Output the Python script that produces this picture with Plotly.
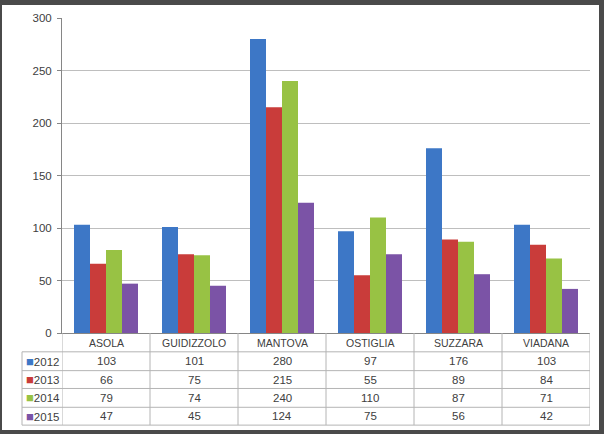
import plotly.graph_objects as go

categories = ["ASOLA", "GUIDIZZOLO", "MANTOVA", "OSTIGLIA", "SUZZARA", "VIADANA"]
years = ["2012", "2013", "2014", "2015"]
v2012 = [103, 101, 280, 97, 176, 103]
v2013 = [66, 75, 215, 55, 89, 84]
v2014 = [79, 74, 240, 110, 87, 71]
v2015 = [47, 45, 124, 75, 56, 42]
y_ticks = [0, 50, 100, 150, 200, 250, 300]
series = [v2012, v2013, v2014, v2015]
colors = ["#3D77C6", "#C93C3A", "#98C244", "#7B53A6"]

W, H = 604, 434
L, R, T, B = 62, 590, 15, 333
pw, ph = R - L, B - T


def px(x):
    return (x - L) / pw


def py(y):
    return 1 - (y - T) / ph


FONT = "Liberation Sans"
TXT = "#404040"
LINE = "#B4B4B4"
NUM = 11.5
CAT = 10.5

fig = go.Figure()
for yr, vals, c in zip(years, series, colors):
    fig.add_trace(go.Bar(x=categories, y=vals, name=yr, marker=dict(color=c, line=dict(width=0)),
                         showlegend=False, hoverinfo="skip"))

shapes = []
# white card on dark border
shapes.append(dict(type="rect", xref="paper", yref="paper", x0=px(2), x1=px(599), y0=py(431), y1=py(2),
                   fillcolor="white", line=dict(width=0), layer="below"))
# table vertical lines
for i in range(len(categories) + 1):
    shapes.append(dict(type="line", xref="x", yref="paper", x0=i - 0.5, x1=i - 0.5, y0=py(333), y1=py(426),
                       line=dict(color=LINE, width=1)))
shapes.append(dict(type="line", xref="paper", yref="paper", x0=px(22), x1=px(22), y0=py(352), y1=py(426),
                   line=dict(color=LINE, width=1)))
row_lines = [352, 371, 389, 408, 426]
for r in row_lines:
    shapes.append(dict(type="line", xref="paper", yref="paper", x0=px(22), x1=px(590), y0=py(r), y1=py(r),
                       line=dict(color=LINE, width=1)))

annotations = []
for c in categories:
    annotations.append(dict(x=c, xref="x", y=py(343), yref="paper", text=c, showarrow=False,
                            xanchor="center", yanchor="middle",
                            font=dict(family=FONT, size=CAT, color=TXT)))
row_centers = [361.5, 380, 398.5, 417]
for yr, vals, col, rc in zip(years, series, colors, row_centers):
    annotations.append(dict(x=px(24), xref="paper", y=py(rc), yref="paper", xanchor="left", yanchor="middle",
                            text=f"<span style='color:{col};font-size:13px'>■</span>{yr}", showarrow=False,
                            font=dict(family=FONT, size=NUM, color=TXT)))
    for c, v in zip(categories, vals):
        annotations.append(dict(x=c, xref="x", y=py(rc), yref="paper", text=str(v), showarrow=False,
                                xanchor="center", yanchor="middle",
                                font=dict(family=FONT, size=NUM, color=TXT)))

fig.update_layout(
    width=W, height=H,
    margin=dict(l=L, r=W - R, t=T, b=H - B, pad=0),
    paper_bgcolor="#4A4A4A", plot_bgcolor="rgba(0,0,0,0)",
    barmode="group", bargap=24 / 88, bargroupgap=0,
    font=dict(family=FONT, size=NUM, color=TXT),
    hovermode=False,
    xaxis=dict(type="category", range=[-0.5, 5.5], showticklabels=False, showline=True,
               linecolor="#868686", ticks="", showgrid=False, zeroline=False, fixedrange=True),
    yaxis=dict(range=[0, 300], tickvals=y_ticks, showgrid=True, gridcolor="#BEBEBE", showline=True,
               linecolor="#868686", ticks="outside", ticklen=4, tickcolor="#868686", zeroline=False,
               tickfont=dict(family=FONT, size=NUM, color=TXT), ticklabelstandoff=3, fixedrange=True),
    shapes=shapes, annotations=annotations,
)
fig.write_html("out.html", config={"displayModeBar": False, "staticPlot": True},
               post_script="document.body.style.margin='0';document.body.style.overflow='hidden';")
